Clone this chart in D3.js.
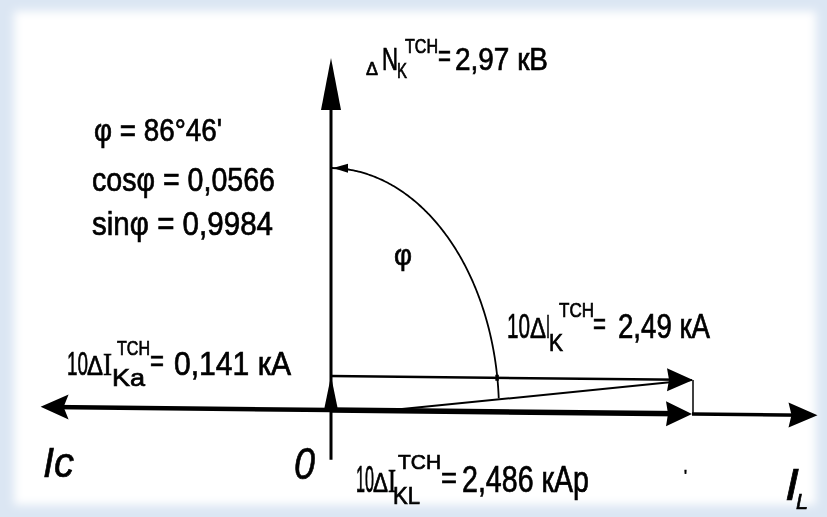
<!DOCTYPE html>
<html>
<head>
<meta charset="utf-8">
<style>
  body { margin: 0; background: #fff; }
  text { font-family: "Liberation Sans", Arial, sans-serif; fill: #000; stroke: #000; stroke-width: 0.7px; }
  .serif { font-family: "Liberation Serif", "DejaVu Serif", serif; }
  .it { font-style: italic; }
</style>
<script src="https://cdn.jsdelivr.net/npm/d3@7"></script>
</head>
<body>
<svg width="827" height="517"></svg>
<script>

// values (10·ΔI in kA, ΔN in kV)
var currentNames  = ["KL", "Ka", "K"];
var currentValues = [2.486, 0.141, 2.49];
var currentUnits  = ["кАр", "кА", "кА"];
var voltageValue  = 2.97;
var voltageUnit   = "кВ";
var phiDegMin     = [86, 46];
var trigNames     = ["cosφ", "sinφ"];
var trigValues    = [0.0566, 0.9984];
var axisExtent    = [-2.0, 3.35];   // Ic ... IL, same units as currents
var axisBelow     = -0.42;          // vertical axis runs a bit under 0
var diagStart     = 0.386;          // where the thin slanted line leaves the axis

var svg = d3.select("svg"),
    width = +svg.attr("width"),
    height = +svg.attr("height");

var fmt = d3.formatLocale({decimal: ",", thousands: " ", grouping: [3], currency: ["", ""]}).format;

var iKL = currentValues[0], iKa = currentValues[1], iK = currentValues[2];
var phi = phiDegMin[0] + phiDegMin[1] / 60;

// scales
var x = d3.scaleLinear().domain([0, iKL]).range([331, 692]);
var yI = d3.scaleLinear().domain([0, iKa]).range([410, 376]);
var yU = d3.scaleLinear().domain([0, voltageValue]).range([410, 58]);
var ox = x(0), oy = yI(0);

// background: pale blue frame, white sheet with soft edges
var defs = svg.append("defs");
defs.append("filter").attr("id", "soft").attr("x", "-5%").attr("y", "-5%").attr("width", "110%").attr("height", "110%")
  .append("feGaussianBlur").attr("stdDeviation", 5);
// a touch of blur, like the scanned original
defs.append("filter").attr("id", "scan")
  .append("feGaussianBlur").attr("stdDeviation", 0.45);
svg.append("rect").attr("width", width).attr("height", height).attr("fill", "#dbe6f3");
svg.append("rect").attr("x", 14).attr("y", 11).attr("width", 802).attr("height", 494)
    .attr("fill", "#fff").attr("filter", "url(#soft)");

// the scan is tilted a little: shear horizontal lines
var k = 0.011;
var g = svg.append("g").attr("filter", "url(#scan)")
  .append("g").attr("transform", "matrix(1," + k + ",0,1,0," + (-k * ox) + ")");
var lines = g.append("g"), heads = g.append("g");

function line(x1, y1, x2, y2, w) {
  lines.append("line").attr("x1", x1).attr("y1", y1).attr("x2", x2).attr("y2", y2)
    .attr("stroke", "#000").attr("stroke-width", w);
}
// filled head, tip at (tx,ty), pointing along angle a, notch pulls the back in
function head(tx, ty, a, len, half, notch) {
  var c = Math.cos(a), s = Math.sin(a), n = notch || 0;
  var bx = tx - len * c, by = ty - len * s;
  var pts = [[tx, ty], [bx - half * s, by + half * c], [bx + n * c, by + n * s], [bx + half * s, by - half * c]];
  heads.append("polygon")
    .attr("points", pts.map(function(p) { return p[0].toFixed(1) + "," + p[1].toFixed(1); }).join(" "))
    .attr("fill", "#000");
}

// horizontal axis Ic <- 0 -> IL
line(x(axisExtent[0]) + 10, oy, ox, oy, 4.5);
line(ox, oy, x(iKL) - 10, oy, 5.5);
line(x(iKL), oy, x(axisExtent[1]) - 10, oy, 3.5);
head(x(axisExtent[0]), oy, Math.PI, 28, 12.5, 5);
head(x(axisExtent[1]), oy, 0, 29, 12.5, 3);
head(x(iKL), oy, 0, 26, 12.5, 2);

// vertical axis, ΔN
line(ox, yU(axisBelow), ox, yU(voltageValue) + 20, 3);
head(ox, yU(voltageValue), -Math.PI / 2, 52, 10, 0);

// small active component, 10ΔI_Ka
head(ox, yI(iKa), -Math.PI / 2, 34, 7, 0);

// upper vector at height iKa, slanted one, closing side
line(ox, yI(iKa), x(iKL) - 10, yI(iKa), 2.5);
head(x(iKL) + 1, yI(iKa), 0, 26, 11.5, 2);
line(x(diagStart), oy, x(iKL), yI(iKa), 2);
line(x(iKL) + 1, yI(iKa), x(iKL) + 1, oy, 1.5);

// angle φ arc, from 90°-φ up to the voltage axis
var rx = 168, ry = 242;
var t0 = (90 - phi) * Math.PI / 180;
var arcPts = d3.range(t0, Math.PI / 2, 0.01).concat([Math.PI / 2 - 0.06]);
lines.append("path")
  .attr("d", d3.line().x(function(t) { return ox + rx * Math.cos(t); })
                      .y(function(t) { return oy - ry * Math.sin(t); })(arcPts))
  .attr("fill", "none").attr("stroke", "#000").attr("stroke-width", 1.8);
head(ox + 2, oy - ry, Math.PI, 15, 4.5, 0);
lines.append("rect").attr("x", ox + rx * Math.cos(Math.asin((oy - yI(iKa)) / ry)) - 2)
  .attr("y", yI(iKa) - 3).attr("width", 3.5).attr("height", 6).attr("fill", "#000");

// text
var T = svg.append("g").attr("filter", "url(#scan)");
function piece(str, px, py, size, w, cls) {
  var t = T.append("text").attr("x", px).attr("y", py).attr("font-size", size).text(str);
  if (w) t.attr("textLength", w).attr("lengthAdjust", "spacingAndGlyphs");
  if (cls) t.attr("class", cls);
  return t;
}

// ΔN_K^TCH = 2,97 кВ
piece("Δ", 366, 75, 18, 12);
piece("N", 382, 70, 31, 16);
piece("K", 397, 78, 22, 10);
piece("TCH", 405, 53, 20, 33);
piece("=", 438, 66, 30, 13);
piece(fmt(".2f")(voltageValue) + " " + voltageUnit, 455, 70, 32, 93);

// φ block
piece("φ = " + phiDegMin[0] + "°" + phiDegMin[1] + "'", 94, 141, 31, 128);
piece(trigNames[0] + " = " + fmt(".4f")(trigValues[0]), 92, 191, 34, 183);
piece(trigNames[1] + " = " + fmt(".4f")(trigValues[1]), 92, 235, 34, 181);
piece("φ", 394, 265, 30, 18);

// 10ΔI_K^TCH = 2,49 кА
piece("10", 507, 338, 35, 23);
piece("Δ", 530, 338, 29, 16);
piece("I", 546, 338, 34, 4);
piece(currentNames[2], 549, 351, 23, 14);
piece("TCH", 559, 317, 21, 35);
piece("=", 593, 334, 30, 13);
piece(fmt(".2f")(iK) + " " + currentUnits[2], 618, 338, 35, 92);

// 10ΔI_Ka^TCH = 0,141 кА
piece("10", 67, 375, 33, 21);
piece("Δ", 87, 375, 28, 16);
piece("I", 103, 375, 32, 9, "serif");
piece(currentNames[1], 112, 386, 23, 33);
piece("TCH", 117, 355, 21, 33);
piece("=", 150, 371, 30, 14);
piece(fmt(".3f")(iKa) + " " + currentUnits[1], 174, 375, 34, 117);

// 10ΔI_KL^TCH = 2,486 кАр
piece("10", 356, 492, 36, 18);
piece("Δ", 373, 492, 28, 15);
piece("I", 388, 492, 34, 8, "serif");
piece(currentNames[0], 393, 504, 23, 27);
piece("TCH", 398, 469, 21, 43);
piece("=", 441, 488, 30, 16);
piece(fmt(".3f")(iKL) + " " + currentUnits[0], 462, 492, 36, 127);

// axis names
piece("Ic", 43, 477, 43, 31, "it");
piece("0", 294, 479, 45, 21, "it");
piece("I", 785, 500, 44, 14, "it");
piece("L", 796, 509, 22, 12, "it");
piece("'", 684, 482, 16, 3);

</script>
</body>
</html>
